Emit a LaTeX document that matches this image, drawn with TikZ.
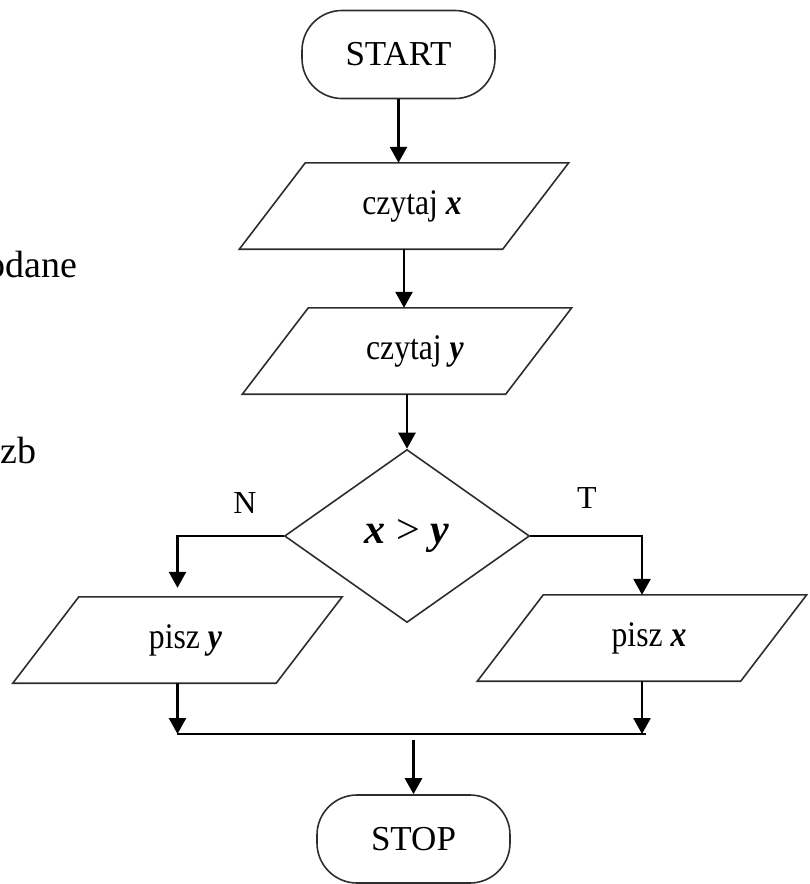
\documentclass[tikz,border=0pt]{standalone}
\usepackage{fontspec}
\setmainfont{Liberation Serif}
% slightly condensed face for the text inside the blocks
\newfontfamily\blockfont[FakeStretch=0.88]{Liberation Serif}
\usetikzlibrary{shapes.geometric,arrows.meta}

\definecolor{boxgray}{RGB}{45,45,45}

\tikzset{
  box/.style={draw=boxgray, line width=1.6pt},
  terminal/.style={box, rectangle, rounded corners=40pt, minimum width=193pt,
    minimum height=88pt, inner sep=0pt, font=\fontsize{35}{40}\selectfont},
  % the io block is a plain rectangle; its slanted outline is drawn by \drawio
  io/.style={rectangle, minimum width=263pt, minimum height=86pt,
    inner sep=0pt, font=\blockfont\fontsize{36}{40}\selectfont},
  decision/.style={box, diamond, minimum width=245pt, minimum height=173pt,
    inner sep=0pt, font=\fontsize{42}{46}\selectfont},
  flow/.style={line width=2.6pt, -{Triangle[length=16pt,width=17pt]}},
  joinline/.style={line width=2.6pt},
  tag/.style={inner sep=0pt, font=\fontsize{32}{36}\selectfont},
  side/.style={inner sep=0pt, anchor=base west, font=\fontsize{38}{42}\selectfont},
}
\newcommand{\bivar}[1]{\textbf{\textit{#1}}}
% parallelogram outline around an io node, leaning right by 66pt
\newcommand{\drawio}[1]{%
  \draw[box] ([xshift=-33pt]#1.south west) -- ([xshift=-33pt]#1.south east)
    -- ([xshift=33pt]#1.north east) -- ([xshift=33pt]#1.north west) -- cycle;}

\begin{document}
\begin{tikzpicture}[x=1pt,y=-1pt]
  \useasboundingbox (0,0) rectangle (809,884);
  \clip (0,0) rectangle (809,884);

  % text from the surrounding page, cut by the left edge
  \node[side] (t1) at (-13.5,277) {odane};
  \node[side] (t2) at (0,463) {zb};

  % flowchart blocks
  \node[terminal] (start) at (398.5,54.5) {START};
  \node[io] (in1) at (404,206) {\hspace*{16pt}czytaj \bivar{x}};
  \node[io] (in2) at (407,351) {\hspace*{16pt}czytaj \bivar{y}};
  \node[decision] (dec) at (407,536) {\bivar{x} > \bivar{y}};
  \node[io] (outL) at (177.5,640) {\hspace*{16pt}pisz \bivar{y}};
  \node[io] (outR) at (642,638) {\hspace*{14pt}pisz \bivar{x}};
  \node[terminal] (stop) at (413.5,839) {STOP};
  \drawio{in1}
  \drawio{in2}
  \drawio{outL}
  \drawio{outR}

  % branch labels
  \node[tag] (no) at (245,503) {N};
  \node[tag] (yes) at (587,498) {T};

  % connectors
  \draw[flow] (start.south) -- (start.south |- in1.north);
  \draw[flow] (in1.south) -- (in1.south |- in2.north);
  \draw[flow] (in2.south) -- (in2.south |- dec.north);
  \draw[flow, shorten >=9pt] (dec.west) -| (outL.north);
  \draw[flow] (dec.east) -| (outR.north);

  \coordinate (jl) at (177,734);
  \coordinate (jr) at (646,734);
  \coordinate (jm) at (413.5,740);
  \draw[flow] (outL.south) -- (outL.south |- jl);
  \draw[flow] (outR.south) -- (outR.south |- jl);
  \draw[joinline] (jl) -- (jr);
  \draw[flow] (jm) -- (stop.north);
\end{tikzpicture}
\end{document}
